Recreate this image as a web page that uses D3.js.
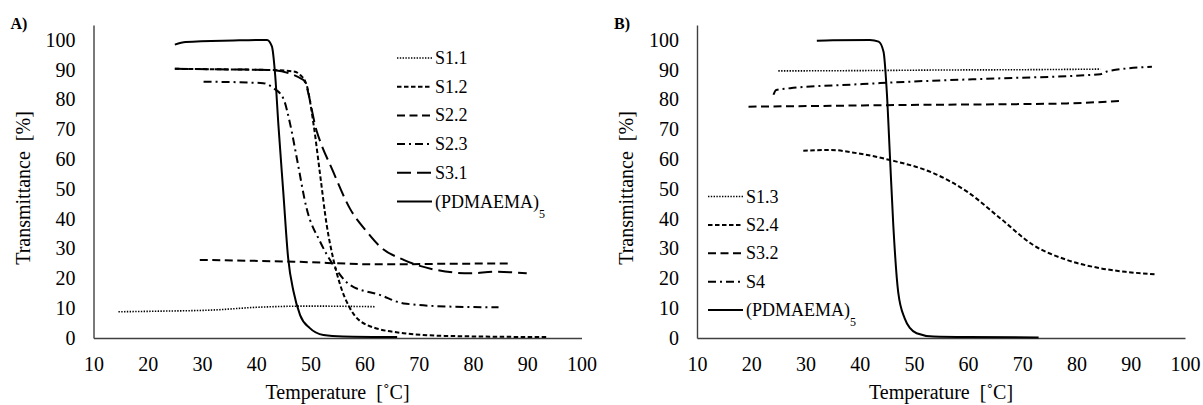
<!DOCTYPE html>
<html>
<head>
<meta charset="utf-8">
<script src="https://cdn.jsdelivr.net/npm/d3@7"></script>
<style>
  body { margin: 0; background: #fff; }
</style>
</head>
<body>
<div id="chart"></div>
<script>
// tick values
var tempTicks = [10, 20, 30, 40, 50, 60, 70, 80, 90, 100];
var transTicks = [0, 10, 20, 30, 40, 50, 60, 70, 80, 90, 100];

// panel A series: [temperature, transmittance]
var a_S11 = [[14.6, 8.8], [22, 9.0], [32.1, 9.4], [40.1, 10.3], [49.9, 10.7], [62, 10.5]];
var a_S12 = [[25, 90.3], [35, 90.1], [42.6, 89.9], [46.9, 89.4], [48.1, 88.3], [49.3, 84.9], [50.6, 71.5],
             [51.8, 54.7], [53, 38], [54.2, 26.7], [55.5, 17.8], [57.3, 10], [60.4, 4.4], [67.2, 1.6],
             [75, 0.7], [93.7, 0.3]];
var a_S22 = [[29.6, 26.2], [46.9, 25.6], [62.9, 24.7], [75, 24.9], [87, 25]];
var a_S23 = [[30.3, 86], [41.3, 85.5], [43.2, 83.8], [45, 80.4], [46.3, 71.5], [47.5, 60.3], [49.3, 43.5],
             [51.8, 32.3], [54.2, 24.5], [57.3, 17.8], [62.9, 14.4], [67.2, 11.6], [76.4, 10.5], [84.7, 10.3]];
var a_S31 = [[25, 90.3], [35, 90.1], [42.6, 89.9], [48.7, 86.6], [51.2, 69.2], [54.2, 55.8], [57.3, 43.4],
             [60.4, 35.7], [62.9, 30.6], [67.2, 26.2], [73.3, 22.8], [79.5, 21.7], [84, 22.2], [89.9, 21.7]];
var a_PD = [[25, 98.4], [27, 99.3], [35.8, 99.8], [42, 100], [42.9, 97.8], [43.5, 88.3], [44.1, 71.5],
            [45, 49], [45.9, 26.8], [46.9, 15.5], [48.1, 7.7], [49.9, 3.3], [52.4, 1.0], [56, 0.5], [66, 0.3]];

// panel B series
var b_S13 = [[25, 89.6], [40, 89.7], [55, 89.9], [70, 90], [84.4, 90.2]];
var b_S24 = [[29.6, 62.8], [34.5, 63.1], [39.5, 62], [45.6, 59.7], [53.6, 55.3], [59.8, 49.1], [65.9, 40.2],
             [72, 31.2], [78.2, 26.2], [84.4, 23.4], [89, 22.2], [94.5, 21.4]];
var b_S32 = [[19.5, 77.6], [35, 77.9], [49.3, 78.2], [65.9, 78.4], [78.2, 78.7], [88, 79.5]];
var b_S4 = [[24.1, 81.6], [24.6, 83.2], [27.2, 83.8], [39.5, 85.1], [49.3, 86], [65.9, 87.1], [84.4, 88.5],
            [85.6, 89.4], [93.9, 91]];
var b_PD = [[32.1, 99.7], [35, 99.9], [41.9, 100], [43.5, 99.4], [44.4, 96], [45, 82.7], [45.6, 60.3],
            [46.2, 37.9], [47.1, 15.5], [48.3, 6.6], [49.3, 3.3], [50.5, 1.6], [53.6, 0.5], [60, 0.3], [73, 0.2]];

var namesA = ["S1.1", "S1.2", "S2.2", "S2.3", "S3.1", "(PDMAEMA)"];
var namesB = ["S1.3", "S2.4", "S3.2", "S4", "(PDMAEMA)"];

var dashes = {
    dot: "1.4,1.4",
    shortDash: "4.5,2.5",
    midDash: "8,4.5",
    dashDot: "8,4,2,4",
    longDash: "14,6",
    solid: null
};

var FONT = "'Liberation Serif', 'DejaVu Serif', serif";
var W = 1203, H = 405;
var svg = d3.select("#chart").append("svg")
    .attr("width", W)
    .attr("height", H)
    .style("font-family", FONT);

function drawPanel(cfg) {
    var x = d3.scaleLinear().domain([10, 100]).range([cfg.left, cfg.left + 488]);
    var y = d3.scaleLinear().domain([0, 105]).range([338, 25]);
    var g = svg.append("g");

    var line = d3.line()
        .curve(d3.curveMonotoneX)
        .x(function(d) { return x(d[0]); })
        .y(function(d) { return y(d[1]); });

    // axes
    var yAxis = g.append("g")
        .attr("transform", "translate(" + cfg.left + ",0)")
        .call(d3.axisLeft(y).tickValues(transTicks).tickSize(0).tickPadding(18));
    var xAxis = g.append("g")
        .attr("transform", "translate(0,338)")
        .call(d3.axisBottom(x).tickValues(tempTicks).tickSize(0).tickPadding(19));
    [yAxis, xAxis].forEach(function(ax) {
        ax.attr("font-family", null);
        ax.select(".domain").attr("stroke", "#404040").attr("stroke-width", 1.4);
        ax.selectAll("text")
            .attr("font-size", 20)
            .attr("fill", "#000")
            .style("font-family", FONT);
    });

    // series
    g.selectAll(".series")
        .data(cfg.series)
        .enter()
            .append("path").attr("class", "series")
            .attr("fill", "none")
            .attr("stroke", "#000")
            .attr("stroke-width", function(d) { return d.style == "dot" ? 1.6 : 2; })
            .attr("stroke-dasharray", function(d) { return dashes[d.style]; })
            .attr("d", function(d) { return line(d.values); });

    // legend
    var leg = g.selectAll(".legend")
        .data(cfg.series)
        .enter()
            .append("g").attr("class", "legend")
            .attr("transform", function(d, i) { return "translate(0," + (cfg.legTop + i * cfg.legStep) + ")"; });
    leg.append("line")
        .attr("x1", cfg.legX).attr("x2", cfg.legX + 35)
        .attr("y1", 0).attr("y2", 0)
        .attr("stroke", "#000")
        .attr("stroke-width", function(d) { return d.style == "dot" ? 1.6 : 2; })
        .attr("stroke-dasharray", function(d) { return dashes[d.style]; });
    var lt = leg.append("text")
        .attr("x", cfg.legX + 38)
        .attr("y", 6)
        .attr("font-size", 18)
        .style("font-family", FONT);
    lt.append("tspan").text(function(d) { return d.name; });
    lt.filter(function(d) { return d.name == "(PDMAEMA)"; })
        .append("tspan")
            .attr("font-size", 12)
            .attr("dy", 10)
            .text("5");

    // titles
    g.append("text")
        .attr("transform", "translate(" + (cfg.left - 71) + ",188) rotate(-90)")
        .attr("text-anchor", "middle")
        .attr("dominant-baseline", "central")
        .attr("font-size", 20)
        .style("font-family", FONT)
        .style("white-space", "pre")
        .text("Transmittance  [%]");
    g.append("text")
        .attr("x", cfg.left + 244)
        .attr("y", 399)
        .attr("text-anchor", "middle")
        .attr("font-size", 20)
        .style("font-family", FONT)
        .style("white-space", "pre")
        .text("Temperature  [\u02DAC]");
    g.append("text")
        .attr("x", cfg.left - 83)
        .attr("y", 29)
        .attr("font-size", 16)
        .attr("font-weight", "bold")
        .style("font-family", FONT)
        .text(cfg.tag);
}

drawPanel({
    tag: "A)",
    left: 93.5,
    legX: 397, legTop: 58, legStep: 28.7,
    series: [
        {name: namesA[0], style: "dot", values: a_S11},
        {name: namesA[1], style: "shortDash", values: a_S12},
        {name: namesA[2], style: "midDash", values: a_S22},
        {name: namesA[3], style: "dashDot", values: a_S23},
        {name: namesA[4], style: "longDash", values: a_S31},
        {name: namesA[5], style: "solid", values: a_PD}
    ]
});

drawPanel({
    tag: "B)",
    left: 697,
    legX: 708, legTop: 196.5, legStep: 28.4,
    series: [
        {name: namesB[0], style: "dot", values: b_S13},
        {name: namesB[1], style: "shortDash", values: b_S24},
        {name: namesB[2], style: "midDash", values: b_S32},
        {name: namesB[3], style: "dashDot", values: b_S4},
        {name: namesB[4], style: "solid", values: b_PD}
    ]
});
</script>
</body>
</html>
